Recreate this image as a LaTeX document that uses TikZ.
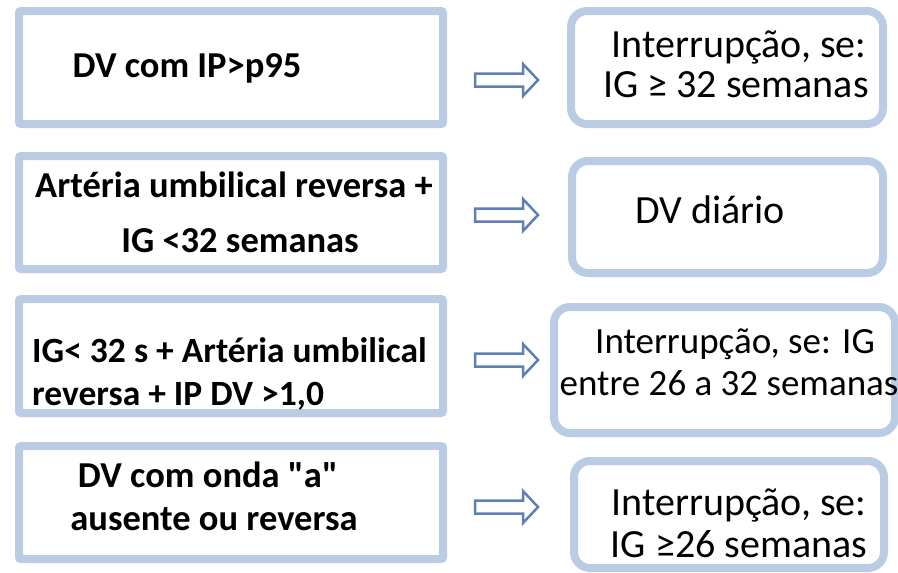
\documentclass[tikz,border=0pt]{standalone}
\usepackage{fontspec}
\setmainfont{Carlito}[Ligatures=TeXOff]
\definecolor{boxblue}{HTML}{B9CCE4}
\definecolor{arrowblue}{HTML}{5F80B4}
\begin{document}
\begin{tikzpicture}[x=1pt,y=-1pt,
  lbox/.style={draw=boxblue, line width=8pt, rounded corners=2pt, minimum width=424pt, minimum height=113pt, inner sep=0pt, fill=white},
  rbox/.style={draw=boxblue, line width=8pt, rounded corners=16pt, inner sep=0pt, fill=white},
  ltext/.style={anchor=base, inner sep=0pt, font=\fontsize{36.5}{42}\selectfont\bfseries},
  rtext/.style={anchor=base, inner sep=0pt, font=\fontsize{40}{44}\selectfont},
  blockarrow/.pic={\draw[draw=arrowblue, line width=2.5pt, fill=white, line join=miter]
      (-31.5,-6.5) -- (16.5,-6.5) -- (16.5,-16) -- (31.5,0) -- (16.5,16) -- (16.5,6.5) -- (-31.5,6.5) -- cycle;}
]
\useasboundingbox (0,0) rectangle (898,573);
% left boxes
\node[lbox] (L1) at (231,67.5) {};
\node[lbox] (L2) at (231,212.5) {};
\node[lbox, minimum height=114pt] (L3) at (231,356) {};
\node[lbox] (L4) at (231,502.5) {};
% right boxes
\node[rbox, minimum width=312pt, minimum height=113pt] (R1) at (727,67.5) {};
\node[rbox, minimum width=311pt, minimum height=112pt] (R2) at (727.5,217) {};
\node[rbox, minimum width=341pt, minimum height=126pt] (R3) at (724.5,370) {};
\node[rbox, minimum width=310pt, minimum height=107pt] (R4) at (729,514.5) {};
% left texts
\node[ltext] (t1) at (187,77) {DV com IP>p95};
\node[ltext] (t2a) at (234,197) {Artéria umbilical reversa +};
\node[ltext] (t2b) at (240,252) {IG <32 semanas};
\node[ltext, anchor=base west, font=\fontsize{35.5}{42}\selectfont\bfseries] (t3a) at (32,362) {IG< 32 s + Artéria umbilical};
\node[ltext, anchor=base west, font=\fontsize{35.5}{42}\selectfont\bfseries] (t3b) at (32,405) {reversa + IP DV >1,0};
\node[ltext] (t4a) at (208,487) {DV com onda "a"};
\node[ltext] (t4b) at (214,530) {ausente ou reversa};
% right texts
\node[rtext] (s1a) at (739,57) {Interrupção, se:};
\node[rtext] (s1b) at (736,97) {IG ≥ 32 semanas};
\node[rtext] (s2) at (710,223) {DV diário};
\node[rtext, font=\fontsize{37}{42}\selectfont] (s3a) at (735,353) {Interrupção, se: IG};
\node[rtext, font=\fontsize{37}{42}\selectfont] (s3b) at (729,395) {entre 26 a 32 semanas};
\node[rtext] (s4a) at (739,515) {Interrupção, se:};
\node[rtext] (s4b) at (739,557) {IG ≥26 semanas};
% arrows
\coordinate (a1) at (506.5,80);
\coordinate (a2) at (506.5,215);
\coordinate (a3) at (506.5,360);
\coordinate (a4) at (506.5,507);
\foreach \c in {a1,a2,a3,a4} \pic at (\c) {blockarrow};
\end{tikzpicture}
\end{document}
